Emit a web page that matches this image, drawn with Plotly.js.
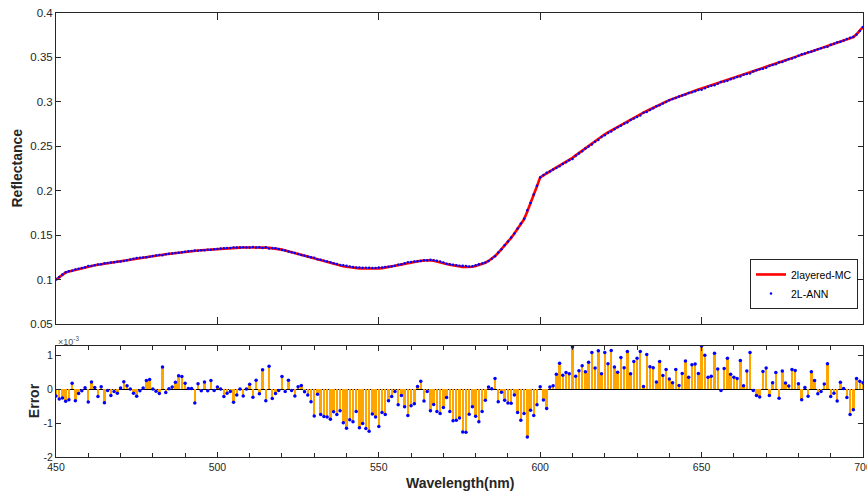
<!DOCTYPE html>
<html>
<head>
<meta charset="utf-8">
<script src="https://cdn.plot.ly/plotly-3.0.1.min.js"></script>
<style>html,body{margin:0;padding:0;background:#fff;}#chart{width:867px;height:498px;}</style>
</head>
<body>
<div id="chart"></div>
<script>
// Wavelength grid: 450..700 nm, 1 nm step
const wavelengthStart = 450;
const wavelengthStep = 1;

// Reflectance of the 2-layered Monte Carlo model
const mcReflectance = [
0.1000,0.1025,0.1055,0.1080,0.1090,0.1100,0.1110,0.1120,0.1130,0.1140,
0.1148,0.1155,0.1162,0.1168,0.1174,0.1180,0.1185,0.1190,0.1195,0.1200,
0.1205,0.1212,0.1219,0.1226,0.1233,0.1240,0.1245,0.1250,0.1255,0.1260,
0.1265,0.1270,0.1275,0.1280,0.1285,0.1290,0.1295,0.1300,0.1305,0.1310,
0.1315,0.1318,0.1321,0.1324,0.1327,0.1330,0.1333,0.1336,0.1339,0.1342,
0.1346,0.1349,0.1351,0.1353,0.1356,0.1358,0.1359,0.1360,0.1361,0.1362,
0.1363,0.1363,0.1363,0.1362,0.1361,0.1360,0.1357,0.1354,0.1350,0.1344,
0.1337,0.1328,0.1318,0.1308,0.1298,0.1288,0.1278,0.1268,0.1258,0.1248,
0.1238,0.1227,0.1216,0.1205,0.1195,0.1185,0.1176,0.1167,0.1159,0.1151,
0.1144,0.1138,0.1133,0.1129,0.1126,0.1124,0.1123,0.1122,0.1122,0.1123,
0.1125,0.1129,0.1134,0.1140,0.1147,0.1155,0.1163,0.1171,0.1179,0.1186,
0.1193,0.1200,0.1206,0.1211,0.1215,0.1217,0.1216,0.1212,0.1205,0.1196,
0.1186,0.1176,0.1167,0.1159,0.1152,0.1147,0.1143,0.1141,0.1141,0.1145,
0.1152,0.1162,0.1175,0.1190,0.1210,0.1235,0.1265,0.1300,0.1340,0.1383,
0.1425,0.1470,0.1518,0.1568,0.1622,0.1678,0.1767,0.1857,0.1950,0.2050,
0.2150,0.2175,0.2197,0.2218,0.2239,0.2260,0.2282,0.2304,0.2326,0.2348,
0.2370,0.2398,0.2425,0.2452,0.2479,0.2505,0.2531,0.2557,0.2583,0.2609,
0.2635,0.2656,0.2677,0.2698,0.2719,0.2740,0.2760,0.2780,0.2800,0.2820,
0.2840,0.2859,0.2878,0.2897,0.2916,0.2935,0.2952,0.2969,0.2986,0.3003,
0.3020,0.3034,0.3048,0.3062,0.3076,0.3090,0.3102,0.3114,0.3126,0.3138,
0.3150,0.3162,0.3174,0.3186,0.3198,0.3210,0.3222,0.3234,0.3246,0.3258,
0.3270,0.3282,0.3294,0.3306,0.3318,0.3330,0.3342,0.3354,0.3366,0.3378,
0.3390,0.3403,0.3416,0.3429,0.3442,0.3455,0.3468,0.3481,0.3494,0.3507,
0.3520,0.3532,0.3544,0.3556,0.3568,0.3580,0.3592,0.3604,0.3616,0.3628,
0.3640,0.3653,0.3666,0.3679,0.3692,0.3705,0.3715,0.3728,0.3760,0.3800,
0.3845
];

// Error between MC and ANN, in units of 1e-3
const errorE3 = [
-0.20,-0.29,-0.26,-0.36,-0.31,0.17,-0.34,-0.13,-0.05,0.04,
-0.38,0.21,0.05,-0.22,0.07,-0.40,-0.04,-0.19,-0.07,-0.12,
0.03,0.22,0.10,0.00,-0.12,-0.21,-0.05,0.03,0.25,0.28,
0.00,-0.06,-0.13,0.65,-0.10,0.01,0.06,0.20,0.39,0.37,
0.17,0.02,0.02,-0.41,0.16,-0.05,0.21,-0.05,0.25,-0.04,
0.06,0.00,-0.22,-0.12,-0.07,-0.39,-0.17,0.00,-0.20,0.00,
0.14,-0.24,0.26,-0.14,0.57,-0.34,0.67,-0.28,-0.13,-0.04,
0.37,-0.07,0.26,-0.04,-0.20,0.07,0.11,-0.08,-0.17,-0.37,
-0.79,-0.15,-0.75,-0.81,-0.82,-0.89,-0.67,-0.75,-0.64,-0.99,
-1.15,-0.90,-0.96,-0.66,-1.14,-1.01,-1.16,-1.24,-0.73,-0.82,
-1.10,-0.69,-0.75,-0.34,-0.22,-0.07,-0.46,-0.19,-0.52,-0.78,
-0.49,-0.43,0.08,0.23,-0.35,-0.07,-0.64,-0.45,-0.66,-0.72,
-0.54,-0.25,-0.66,-0.93,-0.92,-0.85,-1.26,-1.27,-0.74,-0.52,
-0.80,-0.96,-0.66,-0.33,0.06,0.01,0.31,-0.37,-0.09,-0.33,
-0.41,-0.42,-0.17,-0.69,-0.92,-0.72,-1.41,-0.62,-0.78,-0.46,
0.07,-0.32,-0.57,0.06,0.10,0.44,0.76,0.41,0.49,0.45,
1.24,0.38,0.54,0.69,0.51,0.79,1.08,0.62,1.13,0.45,
1.08,0.75,1.14,0.65,0.50,0.93,0.63,1.11,0.45,0.81,
0.91,1.11,0.08,1.02,0.66,0.63,0.21,0.81,0.40,0.58,
0.30,0.19,0.58,0.11,0.46,0.83,0.35,0.72,0.74,0.46,
1.27,1.00,0.35,0.38,1.06,0.59,-0.04,0.61,0.91,0.44,
0.35,0.31,0.84,0.10,0.53,1.08,-0.04,-0.19,-0.23,0.52,
0.62,-0.19,0.19,0.49,-0.27,0.53,0.18,0.09,0.58,0.55,
0.16,-0.31,0.05,-0.21,0.51,0.25,-0.14,-0.07,0.15,0.75,
-0.22,-0.12,-0.35,0.20,0.02,-0.25,-0.75,-0.61,0.31,0.23,
0.19
];

const seriesNames = ['2layered-MC', '2L-ANN'];
const wavelengthTicks = [450, 500, 550, 600, 650, 700];
const errorTickVals = [-2, -1, 0, 1];
const errorTickText = ['-2', '-1', '0', '1'];

const wavelength = mcReflectance.map((_, i) => wavelengthStart + i * wavelengthStep);
const annReflectance = mcReflectance.map((v, i) => v - errorE3[i] * 1e-3);

const FONT = 'Liberation Sans, Arial, Helvetica, sans-serif';
const AX = '#262626';

const traces = [
  {
    x: wavelength, y: mcReflectance, type: 'scatter', mode: 'lines',
    name: seriesNames[0], line: {color: '#ff0000', width: 2.6},
    xaxis: 'x', yaxis: 'y'
  },
  {
    x: wavelength, y: annReflectance, type: 'scatter', mode: 'markers',
    name: seriesNames[1], marker: {color: '#0000ff', size: 2.5},
    xaxis: 'x', yaxis: 'y'
  },
  {
    x: wavelength, y: errorE3, type: 'bar', width: 0.75,
    marker: {color: '#ffa500', line: {width: 0}},
    showlegend: false, hoverinfo: 'skip',
    xaxis: 'x2', yaxis: 'y2'
  },
  {
    x: wavelength, y: errorE3, type: 'scatter', mode: 'markers',
    marker: {color: '#0000ff', size: 3.5},
    showlegend: false,
    xaxis: 'x2', yaxis: 'y2'
  }
];

const baseAxis = {
  showline: true, linecolor: AX, linewidth: 1, mirror: 'ticks',
  ticks: 'inside', tickcolor: AX, showgrid: false, zeroline: false,
  tickfont: {family: FONT, size: 11.5, color: AX}
};

const layout = {
  width: 867, height: 498,
  margin: {l: 56, r: 4, t: 13, b: 41, pad: 0},
  paper_bgcolor: '#ffffff', plot_bgcolor: '#ffffff',
  bargap: 0,
  showlegend: true,
  legend: {
    x: 0.9938, xanchor: 'right', y: 0.446, yanchor: 'top',
    bgcolor: '#ffffff', bordercolor: AX, borderwidth: 1,
    font: {family: FONT, size: 10.5, color: '#000'},
    tracegroupgap: 0, itemwidth: 30
  },
  xaxis: Object.assign({}, baseAxis, {
    domain: [0, 1], anchor: 'y', range: [450, 700],
    tickvals: wavelengthTicks, ticklen: 7, showticklabels: false
  }),
  yaxis: Object.assign({}, baseAxis, {
    domain: [0.2995, 1], anchor: 'x', range: [0.05, 0.4],
    tick0: 0.05, dtick: 0.05, ticklen: 5
  }),
  xaxis2: Object.assign({}, baseAxis, {
    domain: [0, 1], anchor: 'y2', range: [450, 700],
    tickvals: wavelengthTicks, ticklen: 5, ticklabeloverflow: 'allow',
    tickfont: {family: FONT, size: 10.5, color: AX},
    minor: {dtick: 10, tick0: 450, ticks: 'inside', ticklen: 4, tickcolor: AX}
  }),
  yaxis2: Object.assign({}, baseAxis, {
    domain: [0, 0.25], anchor: 'x2', range: [-2, 1.27],
    tickvals: errorTickVals, ticktext: errorTickText, ticklen: 5,
    tickfont: {family: FONT, size: 10.5, color: AX},
    zeroline: true, zerolinecolor: '#000000', zerolinewidth: 1
  }),
  annotations: [
    {text: '<b>Reflectance</b>', xref: 'paper', yref: 'paper', x: -0.0483, y: 0.6498,
     textangle: -90, showarrow: false, xanchor: 'center', yanchor: 'middle',
     font: {family: FONT, size: 14, color: AX}},
    {text: '<b>Error</b>', xref: 'paper', yref: 'paper', x: -0.0273, y: 0.128,
     textangle: -90, showarrow: false, xanchor: 'center', yanchor: 'middle',
     font: {family: FONT, size: 14, color: AX}},
    {text: '<b>Wavelength(nm)</b>', xref: 'paper', yref: 'paper', x: 0.5, y: -0.0586,
     showarrow: false, xanchor: 'center', yanchor: 'middle',
     font: {family: FONT, size: 14, color: AX}},
    {text: '×10<sup>-3</sup>', xref: 'paper', yref: 'paper', x: 0, y: 0.262,
     showarrow: false, xanchor: 'left', yanchor: 'middle',
     font: {family: FONT, size: 9, color: '#555'}}
  ]
};

Plotly.newPlot('chart', traces, layout, {displayModeBar: false, staticPlot: true});
</script>
</body>
</html>
